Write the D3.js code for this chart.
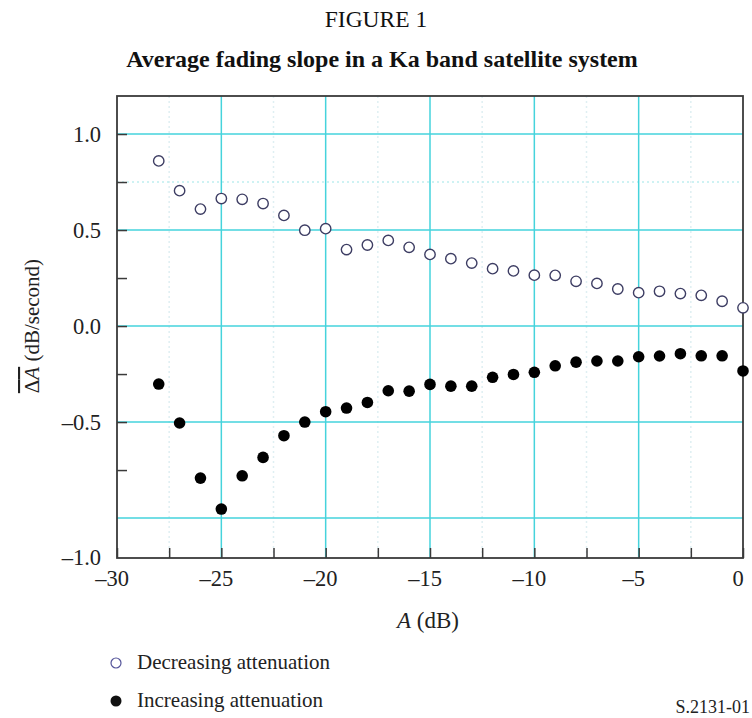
<!DOCTYPE html>
<html>
<head>
<meta charset="utf-8">
<script src="https://cdn.jsdelivr.net/npm/d3@7"></script>
<style>
  body { margin: 0; background: #fff; }
  text { font-family: "Liberation Serif", "Times New Roman", serif; }
</style>
</head>
<body>
<svg id="chart" width="752" height="718"></svg>
<script>
// attenuation A (dB) at which the slopes were measured
const attenuation = [-28, -27, -26, -25, -24, -23, -22, -21, -20, -19, -18, -17, -16, -15,
  -14, -13, -12, -11, -10, -9, -8, -7, -6, -5, -4, -3, -2, -1, 0];

// average fading slope, dB/second
const decreasing = [0.86, 0.705, 0.609, 0.664, 0.66, 0.638, 0.576, 0.499, 0.507, 0.398,
  0.422, 0.446, 0.41, 0.373, 0.351, 0.328, 0.299, 0.287, 0.265, 0.264, 0.233, 0.222,
  0.193, 0.174, 0.181, 0.169, 0.16, 0.129, 0.095];
const increasing = [-0.302, -0.505, -0.792, -0.953, -0.78, -0.684, -0.571, -0.5, -0.446,
  -0.427, -0.398, -0.337, -0.339, -0.304, -0.313, -0.313, -0.267, -0.252, -0.241, -0.207,
  -0.188, -0.182, -0.182, -0.16, -0.156, -0.144, -0.155, -0.155, -0.234];

const xMajor = [-30, -25, -20, -15, -10, -5, 0];
const xMinor = [-27.5, -22.5, -17.5, -12.5, -7.5, -2.5];
const yMajor = [1.0, 0.5, 0.0, -0.5];
const yGrid = [1.0, 0.5, 0.0, -0.5, -1.0];
const yMinor = [0.75, 0.25, -0.25, -0.75];

const GRID = "#45d3dc";
const FRAME = "#3a3a3a";
const TEXT = "#222";

const svg = d3.select("#chart");
const margin = {left: 117, top: 96, right: 9, bottom: 160};
const W = 752, H = 718;

const x = d3.scaleLinear().domain([-30, 0]).range([margin.left, W - margin.right]);
const y = d3.scaleLinear().domain([-1.208, 1.198]).range([H - margin.bottom, margin.top]);

// titles
svg.append("text").attr("x", W / 2).attr("y", 27).attr("text-anchor", "middle")
  .style("font-size", "23.5px").style("fill", "#111").text("FIGURE 1");
svg.append("text").attr("x", W / 2 + 6).attr("y", 67).attr("text-anchor", "middle")
  .style("font-size", "24px").style("font-weight", "bold").style("fill", "#111")
  .text("Average fading slope in a Ka band satellite system");

// faint dotted grid
svg.append("g").selectAll("line").data(xMinor).join("line")
  .attr("x1", d => x(d)).attr("x2", d => x(d))
  .attr("y1", y.range()[1]).attr("y2", y.range()[0])
  .attr("stroke", "#dfeff2").attr("stroke-width", 1.5).attr("stroke-dasharray", "2,3");
svg.append("g").selectAll("line").data([0.75]).join("line")
  .attr("x1", x.range()[0]).attr("x2", x.range()[1])
  .attr("y1", d => y(d)).attr("y2", d => y(d))
  .attr("stroke", "#bfeef0").attr("stroke-width", 1.5).attr("stroke-dasharray", "2,3");

// main grid
svg.append("g").selectAll("line").data(xMajor.slice(1, -1)).join("line")
  .attr("x1", d => x(d)).attr("x2", d => x(d))
  .attr("y1", y.range()[1]).attr("y2", y.range()[0])
  .attr("stroke", GRID).attr("stroke-width", 1.5);
svg.append("g").selectAll("line").data(yGrid).join("line")
  .attr("x1", x.range()[0]).attr("x2", x.range()[1])
  .attr("y1", d => y(d)).attr("y2", d => y(d))
  .attr("stroke", GRID).attr("stroke-width", 1.5);

// axes with inward ticks
const xAxis = d3.axisBottom(x).tickValues(xMajor.concat(xMinor)).tickSize(-10).tickFormat("");
svg.append("g").attr("transform", `translate(0,${y.range()[0]})`).call(xAxis)
  .call(g => g.select(".domain").remove())
  .call(g => g.selectAll("line").attr("stroke", FRAME).attr("stroke-width", 1.5));
const yAxis = d3.axisLeft(y).tickValues(yMajor.concat(yMinor)).tickSize(-10).tickFormat("");
svg.append("g").attr("transform", `translate(${x.range()[0]},0)`).call(yAxis)
  .call(g => g.select(".domain").remove())
  .call(g => g.selectAll("line").attr("stroke", FRAME).attr("stroke-width", 1.5));

// frame
svg.append("rect")
  .attr("x", x.range()[0]).attr("y", y.range()[1])
  .attr("width", x.range()[1] - x.range()[0]).attr("height", y.range()[0] - y.range()[1])
  .attr("fill", "none").attr("stroke", FRAME).attr("stroke-width", 1.8);

// tick labels
const fmtY = d => (d < 0 ? "\u2013" : "") + Math.abs(d).toFixed(1);
const fmtX = d => d < 0 ? "\u2013" + Math.abs(d) : String(d);
svg.append("g").selectAll("text").data(yMajor).join("text")
  .attr("x", x.range()[0] - 16).attr("y", d => y(d) + 8)
  .attr("text-anchor", "end").style("font-size", "22.5px").style("fill", TEXT)
  .text(fmtY);
svg.append("text")
  .attr("x", x.range()[0] - 16).attr("y", y.range()[0] + 7)
  .attr("text-anchor", "end").style("font-size", "22.5px").style("fill", TEXT)
  .text(fmtY(-1.0));
svg.append("g").selectAll("text").data(xMajor).join("text")
  .attr("x", d => x(d) - 5).attr("y", y.range()[0] + 28)
  .attr("text-anchor", "middle").style("font-size", "22.5px").style("fill", TEXT)
  .text(fmtX);

// axis titles
const xt = svg.append("text").attr("x", 428).attr("y", 628)
  .attr("text-anchor", "middle").style("font-size", "23px").style("fill", TEXT);
xt.append("tspan").style("font-style", "italic").text("A");
xt.append("tspan").text(" (dB)");

const yt = svg.append("text")
  .attr("transform", `translate(39,${y(0)}) rotate(-90)`)
  .attr("text-anchor", "middle").style("font-size", "21px").style("fill", TEXT);
yt.append("tspan").style("text-decoration", "overline").text("\u0394")
  .append("tspan").style("font-style", "italic").text("A");
yt.append("tspan").text(" (dB/second)");

// data points
svg.append("g").selectAll("circle").data(attenuation).join("circle")
  .attr("cx", d => x(d)).attr("cy", (d, i) => y(decreasing[i])).attr("r", 5.2)
  .attr("fill", "#fff").attr("stroke", "#3d3d63").attr("stroke-width", 1.4);
svg.append("g").selectAll("circle").data(attenuation).join("circle")
  .attr("cx", d => x(d)).attr("cy", (d, i) => y(increasing[i])).attr("r", 5.8)
  .attr("fill", "#000");

// legend
const legend = [
  {label: "Decreasing attenuation", filled: false},
  {label: "Increasing attenuation", filled: true}
];
const lg = svg.append("g").selectAll("g").data(legend).join("g")
  .attr("transform", (d, i) => `translate(116,${663 + i * 38})`);
lg.append("circle").attr("r", d => d.filled ? 5.5 : 5)
  .attr("fill", d => d.filled ? "#111" : "#fff")
  .attr("stroke", d => d.filled ? "none" : "#55559a").attr("stroke-width", 1.2);
lg.append("text").attr("x", 21).attr("y", 6).style("font-size", "21px").style("fill", TEXT)
  .text(d => d.label);

svg.append("text").attr("x", 750).attr("y", 713).attr("text-anchor", "end")
  .style("font-size", "18px").style("fill", TEXT).text("S.2131-01");
</script>
</body>
</html>
